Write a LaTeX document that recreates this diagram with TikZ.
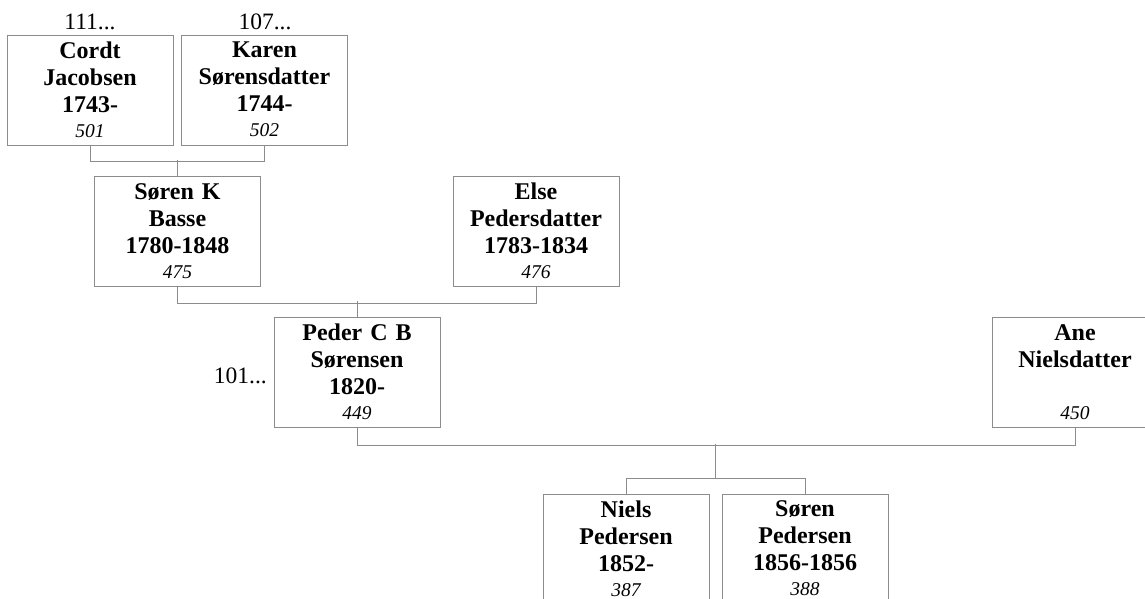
\documentclass[tikz,border=0pt]{standalone}
\usepackage{fontspec}
\setmainfont{Liberation Serif}
\usetikzlibrary{positioning}

\newcommand{\pnum}[1]{\\[-2pt]{\normalfont\itshape\fontsize{19.5}{26}\selectfont #1\rule[-1.5pt]{0pt}{1.5pt}}}

\begin{document}
\begin{tikzpicture}[x=1pt,y=-1pt,
  person/.style={draw=gray!90, line width=1pt, minimum width=166pt, minimum height=110pt,
    text width=164pt, align=center, inner sep=0pt,
    font=\fontsize{24}{27}\selectfont\bfseries},
  link/.style={draw=gray!90, line width=1pt},
  more/.style={font=\fontsize{23.5}{26}\selectfont, inner sep=0pt}]

\clip (0,0) rectangle (1145,598);

%%% 人物
\node[person] (cordt) at (90,90) {Cordt\\Jacobsen\\1743-\pnum{501}};
\node[person] (karen) at (264.5,90) {Karen\\Sørensdatter\\1744-\pnum{502}};

\node[person] (sorenk) at (177.5,231.5) {Søren K\\Basse\\1780-1848\pnum{475}};
\node[person] (else) at (536,231.5) {Else\\Pedersdatter\\1783-1834\pnum{476}};

\node[person] (peder) at (357,372.5) {Peder C B\\Sørensen\\1820-\pnum{449}};
\node[person] (ane) at (1075,372.5) {Ane\\Nielsdatter\\\mbox{}\pnum{450}};

\node[person] (niels) at (626,549) {Niels\\Pedersen\\1852-\pnum{387}};
\node[person] (sorenp) at (805,549) {Søren\\Pedersen\\1856-1856\pnum{388}};

%% 先祖
\node[more] (m111) at (90,22) {111...};
\node[more] (m107) at (265,22) {107...};
\node[more, anchor=east] (m101) at (267,376) {101...};

%%% 線
\draw[link] (cordt.south) -- ++(0,16) -| (karen.south);
\draw[link] (sorenk.north) -- ++(0,-16);

\draw[link] (sorenk.south) -- ++(0,16) -| (else.south);
\draw[link] (peder.north) -- ++(0,-16);

\draw[link] (peder.south) -- ++(0,17) -| (ane.south);
\coordinate (kids) at (715.5,444);
\draw[link] (kids) -- ++(0,34) coordinate (kbar);
\draw[link] (niels.north) |- (kbar) -| (sorenp.north);

\end{tikzpicture}
\end{document}
